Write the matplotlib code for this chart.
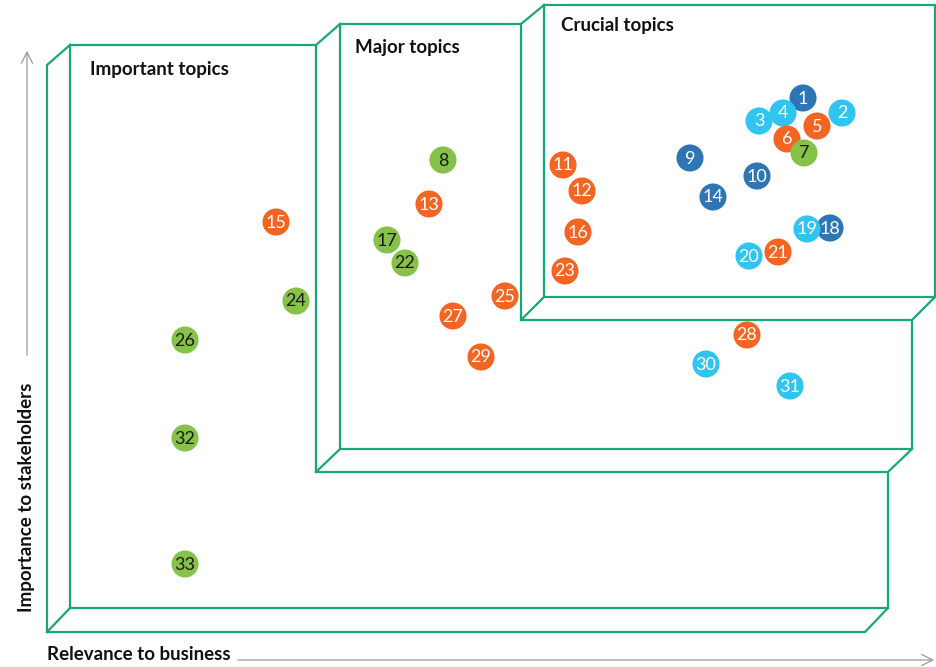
import matplotlib.pyplot as plt

# topic numbers, position on the matrix (business relevance -> x, stakeholder importance -> y, in chart pixels)
topic_ids = list(range(1, 34))
relevance = [803, 842, 759, 783, 817, 787, 804, 443, 690, 757,
             563, 582, 429, 713, 276, 578, 387, 830, 807, 749,
             778, 405, 565, 296, 505, 185, 453, 747, 481, 706,
             790, 185, 185]
importance = [98, 113, 121, 113, 126, 139, 153, 160, 158, 176,
              165, 191, 204, 197, 222, 232, 240, 228, 229, 256,
              252, 263, 271, 301, 296, 340, 316, 335, 357, 364,
              386, 438, 564]
groups = ['dark', 'light', 'light', 'light', 'orange', 'orange', 'green', 'green', 'dark', 'dark',
          'orange', 'orange', 'orange', 'dark', 'orange', 'orange', 'green', 'dark', 'light', 'light',
          'orange', 'green', 'orange', 'green', 'orange', 'green', 'orange', 'orange', 'orange', 'light',
          'light', 'green', 'green']

colors = {'dark': '#2e75b6', 'light': '#30c4f0', 'orange': '#f26522', 'green': '#86c24a'}
box_titles = ['Important topics', 'Major topics', 'Crucial topics']
green_line = '#18a874'

fig = plt.figure(figsize=(9.37, 6.67), dpi=100)
ax = fig.add_axes([0, 0, 1, 1])
ax.set_xlim(0, 937)
ax.set_ylim(667, 0)
ax.axis('off')

def line(xs, ys):
    ax.plot(xs, ys, color=green_line, lw=1.6, solid_joinstyle='miter', zorder=1)

# box 1 (important) - front face and depth edges
line([70, 316, 316, 888, 888, 70, 70], [45, 45, 472, 472, 608, 608, 45])
line([70, 47, 47, 865, 888], [45, 65, 632, 632, 608])
line([47, 70], [632, 608])
# box 2 (major)
line([340, 521, 521, 912, 912, 340, 340], [24, 24, 320, 320, 449, 449, 24])
line([316, 340], [45, 24])
line([888, 912], [472, 449])
line([316, 340], [472, 449])
# box 3 (crucial)
line([544, 935, 935, 544, 544], [5, 5, 297, 297, 5])
line([521, 544], [24, 5])
line([912, 935], [320, 297])
line([521, 544], [320, 297])

title_pos = [(90, 70), (355, 47), (561, 26)]
for t, (x, y) in zip(box_titles, title_pos):
    ax.text(x, y, t, fontsize=13.5, fontweight='bold', family='Lato', color='#111111', va='center')

# topic bubbles
for i, (n, x, y, g) in enumerate(zip(topic_ids, relevance, importance, groups)):
    ax.scatter(x, y, s=380, color=colors[g], edgecolors='none', zorder=10 + 2 * i)
    tc = '#1a1a1a' if g == 'green' else 'white'
    ax.text(x, y + 0.5, str(n), fontsize=13, color=tc, ha='center', va='center',
            family='Lato', zorder=11 + 2 * i)

# axes arrows and labels
arrow = dict(arrowstyle='->', color='#999999', lw=0.9, mutation_scale=20)
ax.annotate('', xy=(27, 48), xytext=(27, 358), arrowprops=arrow)
ax.annotate('', xy=(937, 660), xytext=(235, 660), arrowprops=arrow)
ax.text(27, 612, 'Importance to stakeholders', rotation=90, fontsize=13.5, fontweight='bold',
        family='Lato', color='#111111', ha='center', va='bottom')
ax.text(47, 655, 'Relevance to business', fontsize=13.5, fontweight='bold',
        family='Lato', color='#111111', ha='left', va='center')

fig.savefig('out.png', dpi=100)
